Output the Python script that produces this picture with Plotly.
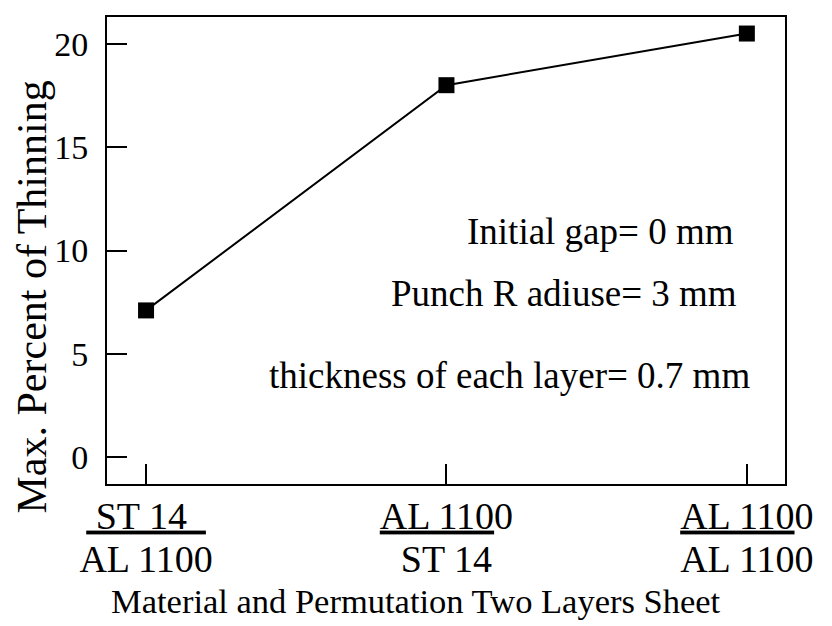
import plotly.graph_objects as go

categories = ["ST 14 / AL 1100", "AL 1100 / ST 14", "AL 1100 / AL 1100"]
tick_labels = [
    "<u>\u00a0ST 14\u00a0\u00a0</u><br>AL 1100",
    "<u>AL 110</u>0<br>ST 14",
    "<u>AL 110</u>0<br>AL 1100",
]
thinning = [7.1, 18.0, 20.5]
notes = ["Initial gap= 0 mm", "Punch R adiuse= 3 mm", "thickness of each layer= 0.7 mm"]

FONT = "Liberation Serif"
BIG = '<span style="font-size:38px">{}</span>'

fig = go.Figure()
fig.add_trace(go.Scatter(
    x=categories, y=thinning, mode="lines+markers",
    line=dict(color="black", width=2),
    marker=dict(symbol="square", size=16, color="black"),
    showlegend=False,
))

fig.update_layout(
    width=824, height=618,
    margin=dict(l=99, r=47, t=7, b=142),
    paper_bgcolor="white", plot_bgcolor="white",
    font=dict(family=FONT, size=34, color="black"),
    xaxis=dict(
        type="category", range=[-0.13, 2.127],
        tickmode="array", tickvals=categories,
        ticktext=["<br>".join(BIG.format(p) for p in t.split("<br>")) for t in tick_labels],
        showline=True, mirror=True, linecolor="black", linewidth=2,
        ticks="inside", ticklen=20, tickwidth=2, tickcolor="black",
        showgrid=False, zeroline=False, ticklabelstandoff=3,
        tickfont=dict(family=FONT, size=33, color="black"),
    ),
    yaxis=dict(
        range=[-1.3, 21.3], tickvals=[0, 5, 10, 15, 20],
        showline=True, mirror=True, linecolor="black", linewidth=2,
        ticks="inside", ticklen=20, tickwidth=2, tickcolor="black",
        showgrid=False, zeroline=False, ticklabelstandoff=10,
        tickfont=dict(family=FONT, size=34, color="black"),
    ),
)

# text notes inside the plot
note_pos = [(0.928, 0.541), (0.932, 0.408), (0.951, 0.232)]
for txt, (px, py) in zip(notes, note_pos):
    fig.add_annotation(text=txt, xref="paper", yref="paper", x=px, y=py,
                       xanchor="right", yanchor="middle", showarrow=False,
                       font=dict(family=FONT, size=37, color="black"))

# axis titles
fig.add_annotation(text="Material and Permutation Two Layers Sheet", xref="paper", yref="paper",
                   x=0.456, y=-0.25, xanchor="center", yanchor="middle", showarrow=False,
                   font=dict(family=FONT, size=34.5, color="black"))
fig.add_annotation(text="Max. Percent of Thinning", xref="paper", yref="paper",
                   x=-0.111, y=0.401, xanchor="center", yanchor="middle", showarrow=False,
                   textangle=-90, font=dict(family=FONT, size=42, color="black"))

fig.write_html("out.html")
